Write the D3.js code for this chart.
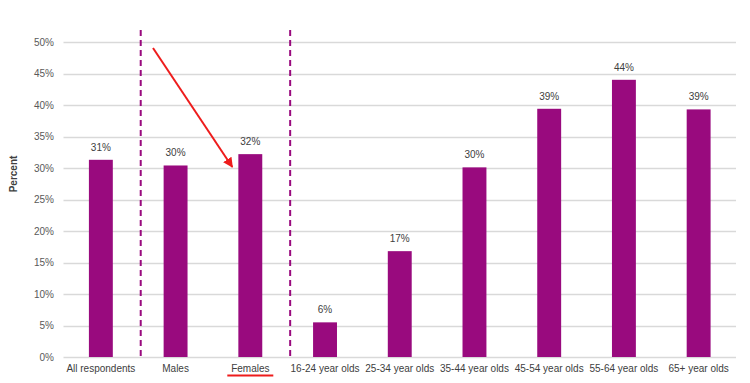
<!DOCTYPE html>
<html><head><meta charset="utf-8">
<script src="https://cdn.jsdelivr.net/npm/d3@7"></script>
<style>
body{margin:0;background:#fff;}
svg{display:block;font-family:"Liberation Sans",Arial,sans-serif;}
</style></head>
<body>
<svg id="chart" width="750" height="383"></svg>
<script>
const categories = ["All respondents","Males","Females","16-24 year olds","25-34 year olds","35-44 year olds","45-54 year olds","55-64 year olds","65+ year olds"];
const values = [31.3, 30.4, 32.2, 5.5, 16.8, 30.1, 39.4, 44.0, 39.3];
const valueLabels = ["31%","30%","32%","6%","17%","30%","39%","44%","39%"];
const yTicks = [0,5,10,15,20,25,30,35,40,45,50];
const yTickLabels = ["0%","5%","10%","15%","20%","25%","30%","35%","40%","45%","50%"];

const svg = d3.select("#chart");
const mLeft = 63.5, mRight = 736, mTop = 42, mBottom = 357;
const barColor = "#990a7e";

const x = d3.scaleBand().domain(categories).range([mLeft, mRight]).paddingInner(0.68).paddingOuter(0.34);
const y = d3.scaleLinear().domain([0, 50]).range([mBottom, mTop]);
const step = x.step();

// gridlines
svg.append("g").selectAll("line").data(yTicks).join("line")
  .attr("x1", mLeft).attr("x2", mRight)
  .attr("y1", d => Math.round(y(d)) + 0.5).attr("y2", d => Math.round(y(d)) + 0.5)
  .attr("stroke", "#d9d9d9").attr("stroke-width", 1.3);

// y tick labels
svg.append("g").selectAll("text").data(yTicks).join("text")
  .attr("x", 54).attr("y", d => y(d)).attr("dy", "0.35em")
  .attr("text-anchor", "end").attr("font-size", 10).attr("fill", "#595959")
  .text((d, i) => yTickLabels[i]);

// axis title
svg.append("text").attr("transform", "translate(17,174) rotate(-90)")
  .attr("text-anchor", "middle").attr("font-size", 10).attr("font-weight", "bold")
  .attr("fill", "#404040").text("Percent");

// bars
svg.append("g").selectAll("rect").data(categories).join("rect")
  .attr("x", d => x(d)).attr("width", x.bandwidth())
  .attr("y", (d, i) => y(values[i])).attr("height", (d, i) => y(0) - y(values[i]))
  .attr("fill", barColor);

// value labels
svg.append("g").selectAll("text").data(categories).join("text")
  .attr("x", d => x(d) + x.bandwidth() / 2)
  .attr("y", (d, i) => y(values[i]) - 9)
  .attr("text-anchor", "middle").attr("font-size", 10).attr("fill", "#404040")
  .text((d, i) => valueLabels[i]);

// x labels
svg.append("g").selectAll("text").data(categories).join("text")
  .attr("x", d => x(d) + x.bandwidth() / 2).attr("y", 372)
  .attr("text-anchor", "middle").attr("font-size", 10).attr("fill", "#404040")
  .text(d => d);

// dashed separators
const sep = [x(categories[1]) - (step - x.bandwidth()) / 2 + 2.5, x(categories[3]) - (step - x.bandwidth()) / 2 + 2.5];
svg.append("g").selectAll("line").data(sep).join("line")
  .attr("x1", d => d).attr("x2", d => d).attr("y1", 30).attr("y2", mBottom)
  .attr("stroke", barColor).attr("stroke-width", 2).attr("stroke-dasharray", "6,4");

// red arrow
const defs = svg.append("defs");
defs.append("marker").attr("id", "ah").attr("viewBox", "0 0 10 10").attr("refX", 9).attr("refY", 5)
  .attr("markerWidth", 5).attr("markerHeight", 5).attr("orient", "auto")
  .append("path").attr("d", "M0,0 L10,5 L0,10 z").attr("fill", "#ee1c1c");
const fx = x("Females") + x.bandwidth() / 2;
svg.append("line").attr("x1", 153).attr("y1", 48).attr("x2", fx - 18).attr("y2", 167)
  .attr("stroke", "#ee1c1c").attr("stroke-width", 2).attr("marker-end", "url(#ah)");

// underline
svg.append("line").attr("x1", fx - 23).attr("x2", fx + 23).attr("y1", 375.5).attr("y2", 375.5)
  .attr("stroke", "#ee1c1c").attr("stroke-width", 2);
</script>
</body></html>
